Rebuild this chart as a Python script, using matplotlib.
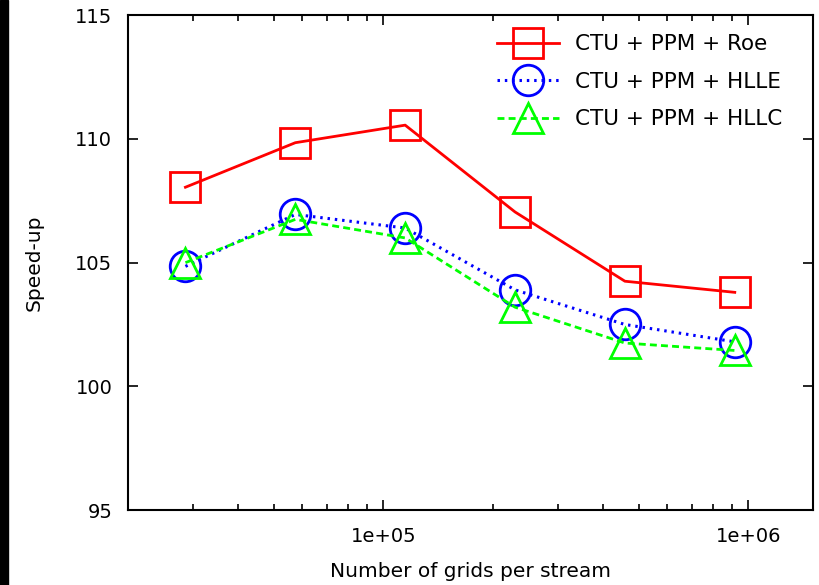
import matplotlib
matplotlib.use("Agg")
import matplotlib.pyplot as plt
from matplotlib.patches import Rectangle
from matplotlib.ticker import FixedLocator, LogLocator, NullFormatter

plt.rcParams['font.family'] = ['DejaVu Sans']

grids = [28672, 57344, 114688, 229376, 458752, 917504]
roe = [108.05, 109.85, 110.56, 107.05, 104.25, 103.8]
hlle = [104.85, 106.95, 106.4, 103.9, 102.5, 101.8]
hllc = [105.0, 106.75, 106.0, 103.2, 101.75, 101.45]
xtick_vals = [1e5, 1e6]
xtick_labels = ['1e+05', '1e+06']

fig = plt.figure(figsize=(8.19, 5.85), dpi=100)
# dark strip on the left edge of the original image
fig.patches.append(Rectangle((0, 0), 8 / 819, 1, transform=fig.transFigure,
                             color='black', zorder=0))
ax = fig.add_axes([0.1567, 0.1282, 0.8356, 0.8456])

ax.plot(grids, roe, color='#ff0000', lw=2.0, ls='-', marker='s', ms=21,
        mfc='none', mec='#ff0000', mew=2.0, label='CTU + PPM + Roe')
ax.plot(grids, hlle, color='#0000ff', lw=2.2, ls=(0, (0.8, 1.6)), marker='o', ms=22,
        mfc='none', mec='#0000ff', mew=2.0, label='CTU + PPM + HLLE')
ax.plot(grids, hllc, color='#00ff00', lw=2.0, ls=(0, (2.5, 1.5)), marker='^', ms=22,
        mfc='none', mec='#00ff00', mew=2.0, label='CTU + PPM + HLLC')

ax.set_xscale('log')
ax.set_xlim(2e4, 1.5e6)
ax.set_ylim(95, 115)
ax.set_yticks([95, 100, 105, 110, 115])
ax.xaxis.set_major_locator(FixedLocator(xtick_vals))
ax.set_xticklabels(xtick_labels)
ax.xaxis.set_minor_locator(LogLocator(base=10, subs=range(2, 10)))
ax.xaxis.set_minor_formatter(NullFormatter())

ax.tick_params(which='both', direction='in', top=True, right=True, labelsize=14, width=1.2)
ax.tick_params(which='major', length=7)
ax.tick_params(which='minor', length=4)
ax.tick_params(axis='y', pad=11.5)
ax.tick_params(axis='x', pad=12)
for s in ax.spines.values():
    s.set_linewidth(1.5)

ax.set_xlabel('Number of grids per stream', fontsize=14.5, labelpad=12)
ax.set_ylabel('Speed-up', fontsize=14.5, labelpad=23)

leg = ax.legend(loc='upper left', bbox_to_anchor=(0.5387, 0.962), frameon=False,
                fontsize=15.5, handlelength=2.9, labelspacing=0.82, borderpad=0,
                borderaxespad=0, handletextpad=0.74)

fig.savefig('out.png', dpi=100)
